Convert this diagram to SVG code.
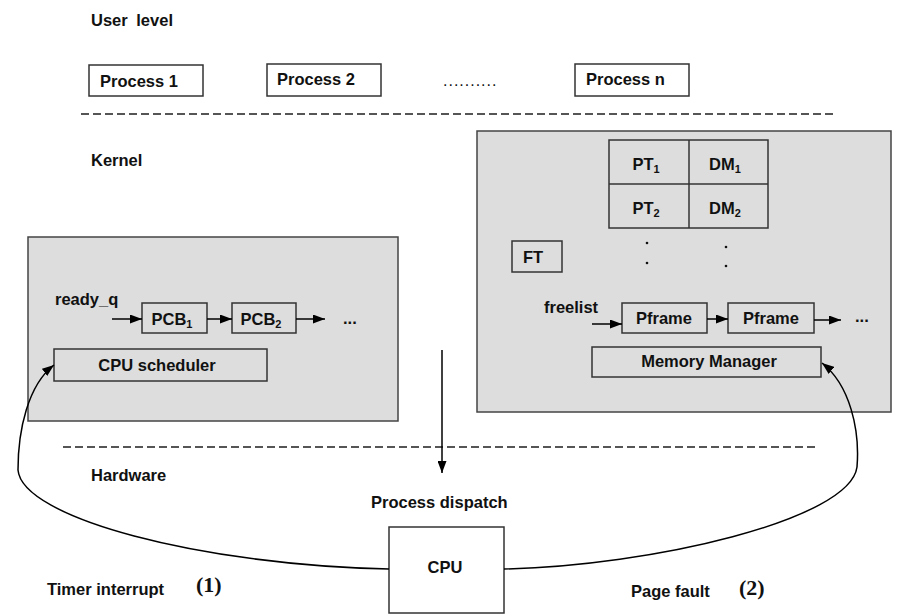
<svg xmlns="http://www.w3.org/2000/svg" width="902" height="616" viewBox="0 0 902 616">
<style>
text{font-family:"Liberation Sans",Arial,sans-serif;font-weight:bold;font-size:16.5px;fill:#111}
.serif{font-family:"Liberation Serif","Times New Roman",serif;font-size:22px}
.dots{font-weight:normal;letter-spacing:1px;font-size:16px}
.box{fill:#fff;stroke:#333;stroke-width:1.5}
.gbox{fill:#ddd;stroke:#444;stroke-width:1.5}
.ibox{fill:#ddd;stroke:#333;stroke-width:1.5}
.dash{stroke:#555;stroke-width:2;stroke-dasharray:8 4;fill:none}
.conn{stroke:#000;stroke-width:1.5;fill:none;marker-end:url(#ah)}
.mid{text-anchor:middle}
</style>
<defs>
<marker id="ah" markerUnits="userSpaceOnUse" markerWidth="12" markerHeight="9" refX="12" refY="4.5" orient="auto">
<path d="M0,0 L12,4.5 L0,9 z" fill="#000"/>
</marker>
</defs>
<rect width="902" height="616" fill="#fff"/>

<g id="levels">
<text x="91" y="26" style="word-spacing:4px">User level</text>
<text x="91" y="166">Kernel</text>
<text x="91" y="481">Hardware</text>
<line class="dash" x1="81" y1="114" x2="833" y2="114"/>
<line class="dash" x1="63" y1="447" x2="817" y2="447"/>
</g>

<g id="process1"><rect class="box" x="89" y="65" width="114" height="31"/><text x="100" y="87">Process 1</text></g>
<g id="process2"><rect class="box" x="267" y="64" width="114" height="32"/><text x="277" y="85">Process 2</text></g>
<text class="dots" x="443" y="86">..........</text>
<g id="processn"><rect class="box" x="575" y="64" width="114" height="32"/><text x="586" y="85">Process n</text></g>

<g id="cpu-kernel">
<rect class="gbox" x="28" y="237" width="370" height="184"/>
<text x="55" y="305">ready_q</text>
<g id="pcb1"><rect class="ibox" x="142" y="303" width="65" height="30"/><text x="172" y="325" class="mid">PCB<tspan font-size="11" dy="3">1</tspan></text></g>
<g id="pcb2"><rect class="ibox" x="232" y="303" width="64" height="30"/><text x="261" y="325" class="mid">PCB<tspan font-size="11" dy="3">2</tspan></text></g>
<text x="343" y="324">...</text>
<g id="cpu-scheduler"><rect class="ibox" x="54" y="349" width="213" height="32"/><text x="157" y="371" class="mid">CPU scheduler</text></g>
</g>

<g id="mem-kernel">
<rect class="gbox" x="477" y="131" width="414" height="281"/>
<g id="page-table">
<rect class="ibox" x="609" y="140" width="159" height="88"/>
<line x1="689" y1="140" x2="689" y2="228" stroke="#333" stroke-width="1.5"/>
<line x1="609" y1="184" x2="768" y2="184" stroke="#333" stroke-width="1.5"/>
<text x="646" y="170" class="mid">PT<tspan font-size="11" dy="3">1</tspan></text>
<text x="725" y="170" class="mid">DM<tspan font-size="11" dy="3">1</tspan></text>
<text x="646" y="214" class="mid">PT<tspan font-size="11" dy="3">2</tspan></text>
<text x="725" y="214" class="mid">DM<tspan font-size="11" dy="3">2</tspan></text>
<circle cx="647" cy="243" r="1.3" fill="#111"/>
<circle cx="647" cy="263" r="1.3" fill="#111"/>
<circle cx="726" cy="247" r="1.3" fill="#111"/>
<circle cx="726" cy="266" r="1.3" fill="#111"/>
</g>
<g id="ft"><rect class="ibox" x="512" y="241" width="50" height="31"/><text x="523" y="263">FT</text></g>
<text x="544" y="313">freelist</text>
<g id="pframe1"><rect class="ibox" x="622" y="303" width="85" height="30"/><text x="664" y="324" class="mid">Pframe</text></g>
<g id="pframe2"><rect class="ibox" x="728" y="303" width="86" height="30"/><text x="771" y="324" class="mid">Pframe</text></g>
<text x="855" y="322">...</text>
<g id="memory-manager"><rect class="ibox" x="592" y="347" width="229" height="30"/><text x="709" y="367" class="mid">Memory Manager</text></g>
</g>

<g id="cpu"><rect class="box" x="389" y="527" width="115" height="86"/><text x="445" y="573" class="mid">CPU</text></g>

<g id="labels">
<text x="371" y="508">Process dispatch</text>
<text x="47" y="595">Timer interrupt</text>
<text class="serif" x="196" y="592">(1)</text>
<text x="631" y="597">Page fault</text>
<text class="serif" x="739" y="595">(2)</text>
</g>

<g id="connectors">
<line class="conn" x1="112" y1="319" x2="142" y2="319"/>
<line class="conn" x1="207" y1="319" x2="232" y2="319"/>
<line class="conn" x1="296" y1="319" x2="325" y2="319"/>
<line class="conn" x1="592" y1="324" x2="622" y2="324"/>
<line class="conn" x1="707" y1="319" x2="728" y2="319"/>
<line class="conn" x1="814" y1="320" x2="841" y2="320"/>
<line class="conn" x1="442" y1="350" x2="442" y2="473"/>
<path class="conn" d="M389,569 C200,565 22,518 18,470 C18,430 28,385 54,365"/>
<path class="conn" d="M504,569 C650,566 850,520 857,467 C860,430 850,385 822,363"/>
</g>
</svg>
